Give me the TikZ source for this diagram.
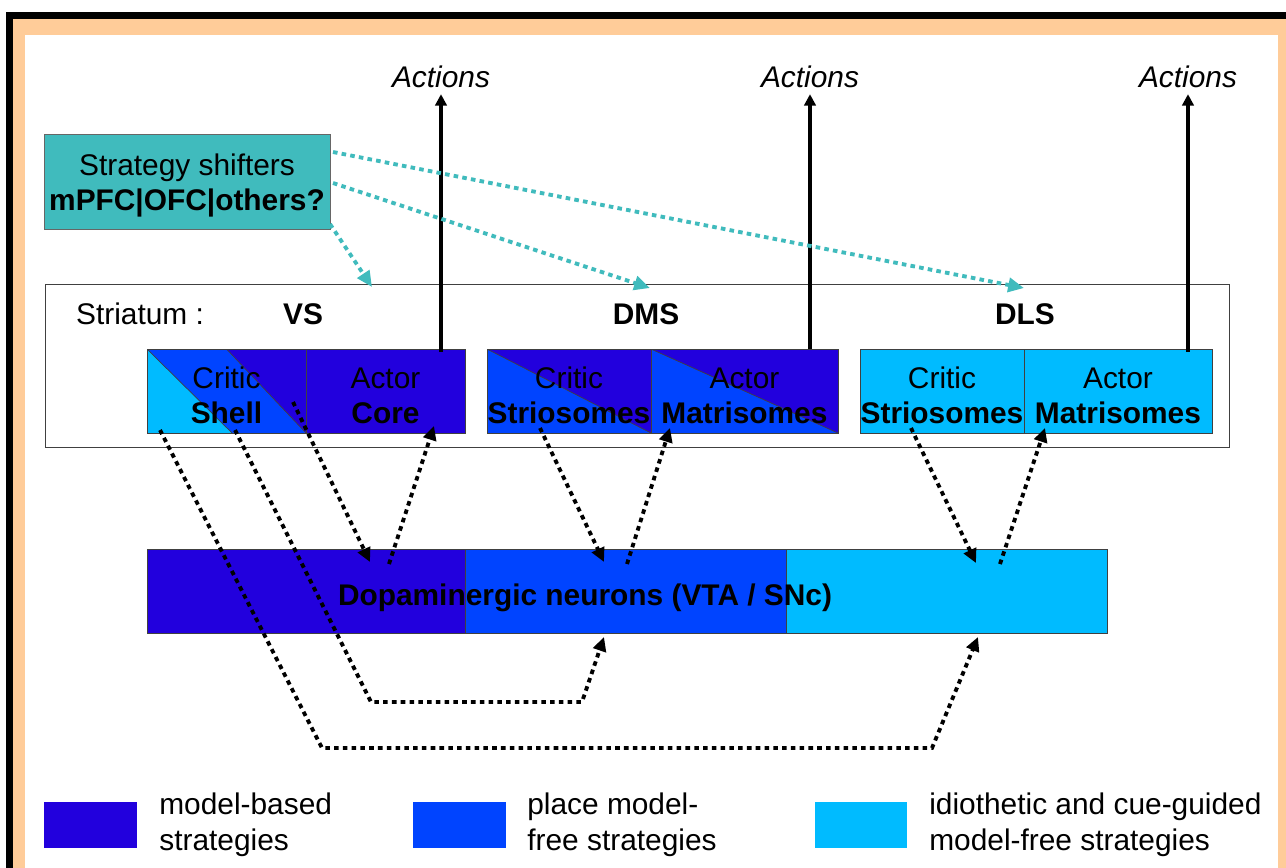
\documentclass[tikz,border=0pt]{standalone}
\usepackage{fontspec}
\setmainfont{Liberation Sans}
\usetikzlibrary{positioning,arrows.meta,calc}

\definecolor{modelbased}{RGB}{34,0,221}
\definecolor{placefree}{RGB}{0,68,255}
\definecolor{cuefree}{RGB}{0,187,255}
\definecolor{shifter}{RGB}{64,187,189}
\definecolor{peach}{RGB}{255,204,153}

\newcommand{\lowstrut}{\rule{0pt}{17pt}}

\tikzset{
  blk/.style={draw=black!75,line width=0.5pt,inner sep=0pt,outer sep=0pt,align=center,minimum height=1.68cm},
  halfcut/.style={fill=placefree,path picture={
      \fill[modelbased] (path picture bounding box.north west) -- (path picture bounding box.north east)
        -- (path picture bounding box.south east) -- cycle;
      \draw[line width=0.4pt] (path picture bounding box.north west) -- (path picture bounding box.south east);}},
  shellcut/.style={fill=cuefree,path picture={
      \fill[placefree] (path picture bounding box.north west)
        -- ($(path picture bounding box.south west)!0.535!(path picture bounding box.south east)$)
        -- (path picture bounding box.south east) -- (path picture bounding box.north east) -- cycle;
      \fill[modelbased] ($(path picture bounding box.north west)!0.5!(path picture bounding box.north east)$)
        -- (path picture bounding box.south east) -- (path picture bounding box.north east) -- cycle;
      \draw[line width=0.4pt] (path picture bounding box.north west)
        -- ($(path picture bounding box.south west)!0.535!(path picture bounding box.south east)$);
      \draw[line width=0.4pt] ($(path picture bounding box.north west)!0.5!(path picture bounding box.north east)$)
        -- (path picture bounding box.south east);}},
  act/.style={line width=2.3pt,-{Triangle[length=6.5pt,width=6.5pt]}},
  dopa/.style={line width=2.2pt,dash pattern=on 2.6pt off 2.4pt,-{Triangle[length=8pt,width=7.5pt]}},
  shiftarrow/.style={shifter,line width=2.2pt,dash pattern=on 2.6pt off 2.4pt,-{Triangle[length=9pt,width=8pt]}},
  legsq/.style={minimum width=1.86cm,minimum height=0.92cm,inner sep=0pt},
  legtxt/.style={anchor=west,align=left,inner sep=0pt,font=\fontsize{17}{20.4}\selectfont}
}

\begin{document}
\begin{tikzpicture}[x=0.02cm,y=-0.02cm,font=\fontsize{17}{20}\selectfont]
  \useasboundingbox (0,0) rectangle (1286,867);
  \clip (0,0) rectangle (1286,867);

  % frame
  \fill[black] (6,12) rectangle (1300,900);
  \fill[peach] (13,19) rectangle (1293,893);
  \fill[white] (25,35) rectangle (1278,890);

  % strategy shifters
  \node[draw=black!60,fill=shifter,minimum width=5.72cm,minimum height=1.9cm,align=center,inner sep=0pt]
    (shift) at (187,181.5) {\lowstrut Strategy shifters\\\textbf{mPFC|OFC|others?}};

  % striatum
  \node[draw=black!75,line width=0.5pt,minimum width=23.7cm,minimum height=3.26cm,inner sep=0pt]
    (stri) at (637.5,365.5) {};
  \node (striLbl) at (140,314) {Striatum :};
  \node (vsLbl) at (303,314) {\textbf{VS}};
  \node (dmsLbl) at (646,314) {\textbf{DMS}};
  \node (dlsLbl) at (1025,314) {\textbf{DLS}};

  \node[blk,shellcut,minimum width=3.18cm] (vsC) at (226.5,391) {\lowstrut Critic\\\textbf{Shell}};
  \node[blk,fill=modelbased,minimum width=3.18cm,right=0pt of vsC] (vsA) {\lowstrut Actor\\\textbf{Core}};
  \node[blk,halfcut,minimum width=3.28cm] (dmsC) at (569,391) {\lowstrut Critic\\\textbf{Striosomes}};
  \node[blk,halfcut,minimum width=3.74cm,right=0pt of dmsC] (dmsA) {\lowstrut Actor\\\textbf{Matrisomes}};
  \node[blk,fill=cuefree,minimum width=3.28cm] (dlsC) at (942,391) {\lowstrut Critic\\\textbf{Striosomes}};
  \node[blk,fill=cuefree,minimum width=3.76cm,right=0pt of dlsC] (dlsA) {\lowstrut Actor\\\textbf{Matrisomes}};

  % dopaminergic neurons
  \node[blk,fill=modelbased,minimum width=6.36cm] (daMB) at (306,591) {};
  \node[blk,fill=placefree,minimum width=6.44cm,right=0pt of daMB] (daPL) {};
  \node[blk,fill=cuefree,minimum width=6.42cm,right=0pt of daPL] (daCM) {};

  % legend
  \node[legsq,fill=modelbased] (legMB) at (90.5,825) {};
  \node[legsq,fill=placefree] (legPL) at (459.5,825) {};
  \node[legsq,fill=cuefree] (legCM) at (861,825) {};
  \node[legtxt] (legMBt) at (159,825) {model-based\\strategies};
  \node[legtxt] (legPLt) at (527,825) {place model-\\free strategies};
  \node[legtxt] (legCMt) at (929,825) {idiothetic and cue-guided\\model-free strategies};

  % actions
  \node (actVS) at (441,77) {\itshape Actions};
  \node (actDMS) at (810,77) {\itshape Actions};
  \node (actDLS) at (1188,77) {\itshape Actions};
  \coordinate (vsFoot) at (441,352);
  \coordinate (dmsFoot) at (810,349);
  \coordinate (dlsFoot) at (1188,352);
  \draw[act] (vsFoot) -- (actVS);
  \draw[act] (dmsFoot) -- (actDMS);
  \draw[act] (dlsFoot) -- (actDLS);

  % strategy shifter arrows
  \coordinate (shA) at (333,152);
  \coordinate (shB) at (333,183);
  \coordinate (shC) at (330,224);
  \coordinate (toVS) at (372,287);
  \coordinate (toDMS) at (650,288);
  \coordinate (toDLS) at (1024,288);
  \draw[shiftarrow] (shA) -- (toDLS);
  \draw[shiftarrow] (shB) -- (toDMS);
  \draw[shiftarrow] (shC) -- (toVS);

  % critic / actor <-> dopamine loops
  \coordinate (shellOut1) at (160,430);
  \coordinate (bendA1) at (322,748);
  \coordinate (bendA2) at (932,748);
  \coordinate (cueIn) at (978,637);
  \coordinate (shellOut2) at (235,430);
  \coordinate (bendB1) at (371,702);
  \coordinate (bendB2) at (582,702);
  \coordinate (placeIn) at (604,637);
  \coordinate (vsCOut) at (293,402);
  \coordinate (vsDaIn) at (370,562);
  \coordinate (vsDaOut) at (389,564);
  \coordinate (vsAIn) at (434,426);
  \coordinate (dmsCOut) at (540,428);
  \coordinate (dmsDaIn) at (604,562);
  \coordinate (dmsDaOut) at (627,564);
  \coordinate (dmsAIn) at (670,428);
  \coordinate (dlsCOut) at (911,428);
  \coordinate (dlsDaIn) at (976,563);
  \coordinate (dlsDaOut) at (1000,564);
  \coordinate (dlsAIn) at (1045,428);

  \draw[dopa] (shellOut1) -- (bendA1) -- (bendA2) -- (cueIn);
  \draw[dopa] (shellOut2) -- (bendB1) -- (bendB2) -- (placeIn);
  \draw[dopa] (vsCOut) -- (vsDaIn);
  \draw[dopa] (vsDaOut) -- (vsAIn);
  \draw[dopa] (dmsCOut) -- (dmsDaIn);
  \draw[dopa] (dmsDaOut) -- (dmsAIn);
  \draw[dopa] (dlsCOut) -- (dlsDaIn);
  \draw[dopa] (dlsDaOut) -- (dlsAIn);

  \node (daLbl) at (585,598) {\textbf{Dopaminergic neurons (VTA / SNc)}};
\end{tikzpicture}
\end{document}
